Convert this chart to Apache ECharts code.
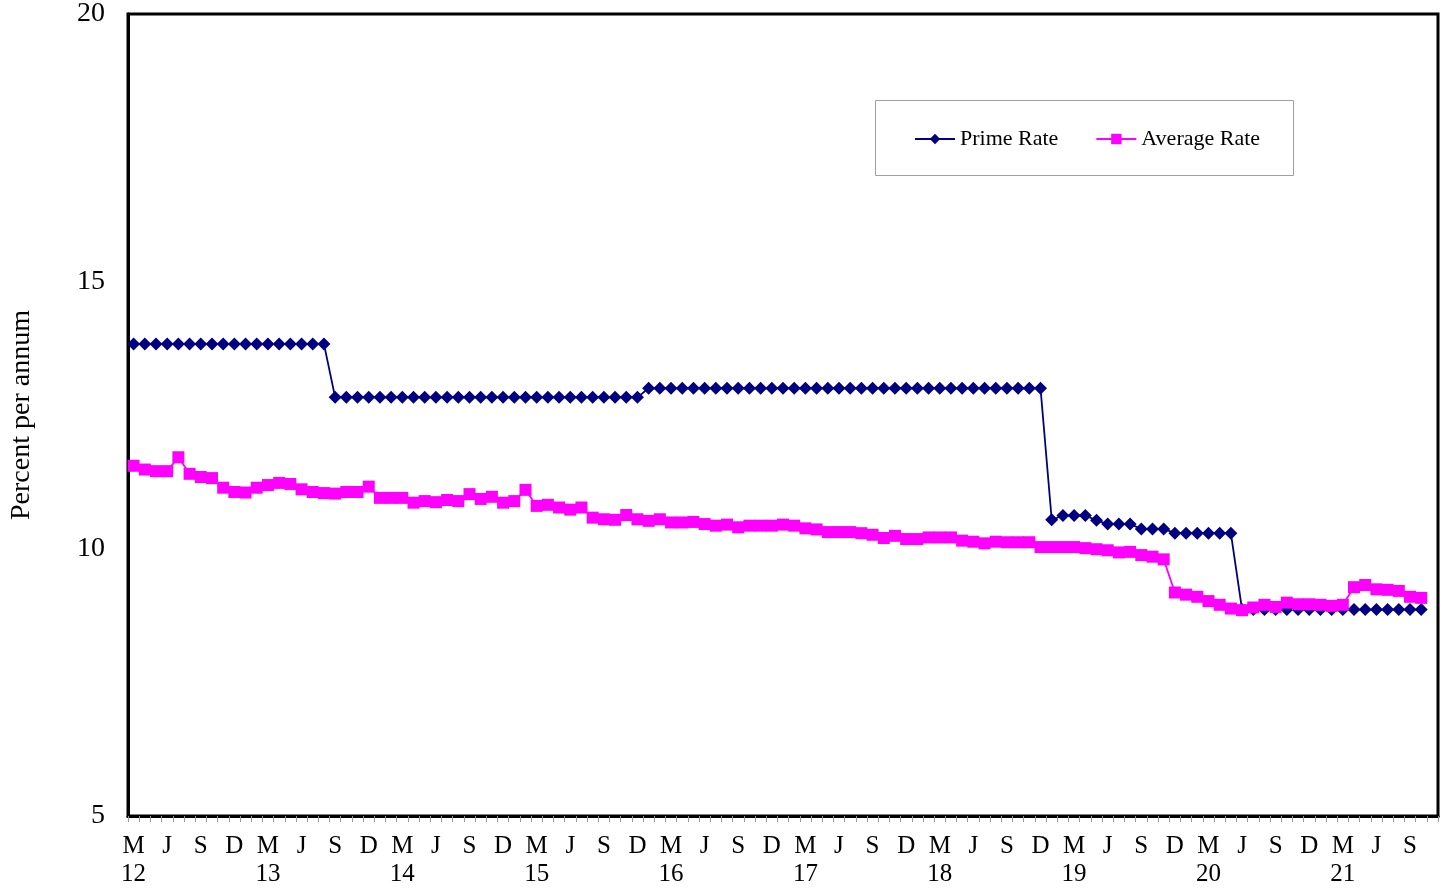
<!DOCTYPE html>
<html>
<head>
<meta charset="utf-8">
<script src="https://cdn.jsdelivr.net/npm/echarts@6/dist/echarts.min.js"></script>
<style>
html,body{margin:0;padding:0;background:#fff;}
#chart{width:1442px;height:894px;}
</style>
</head>
<body>
<div id="chart"></div>
<script>
// Monthly categories: Mar 2012 .. Nov 2021 (last slot empty)
const years = [2012,2013,2014,2015,2016,2017,2018,2019,2020,2021];
const monthLetters = {3:'M',6:'J',9:'S',12:'D'};
const categories = [];
for (const y of years) {
  for (let m = 1; m <= 12; m++) {
    if (y === 2012 && m < 3) continue;
    if (y === 2021 && m > 11) continue;
    categories.push(y + '-' + String(m).padStart(2,'0'));
  }
}

const primeRate = [
  13.83,13.83,13.83,13.83,13.83,13.83,13.83,13.83,13.83,13.83,13.83,13.83,13.83,13.83,13.83,13.83,13.83,13.83,
  12.83,12.83,12.83,12.83,12.83,12.83,12.83,12.83,12.83,12.83,12.83,12.83,12.83,12.83,12.83,12.83,12.83,12.83,
  12.83,12.83,12.83,12.83,12.83,12.83,12.83,12.83,12.83,12.83,
  13.00,13.00,13.00,13.00,13.00,13.00,13.00,13.00,13.00,13.00,13.00,13.00,13.00,13.00,13.00,13.00,13.00,13.00,
  13.00,13.00,13.00,13.00,13.00,13.00,13.00,13.00,13.00,13.00,13.00,13.00,13.00,13.00,13.00,13.00,13.00,13.00,
  10.54,10.62,10.62,10.62,10.53,10.46,10.46,10.46,10.37,10.37,10.37,
  10.29,10.29,10.29,10.29,10.29,10.29,
  8.86,8.86,8.86,8.86,8.86,8.86,8.86,8.86,8.86,8.86,8.86,8.86,8.86,8.86,8.86,8.86,8.86
];

const averageRate = [
  11.55,11.48,11.45,11.45,11.71,11.40,11.34,11.32,11.14,11.06,11.05,11.14,
  11.19,11.23,11.21,11.11,11.06,11.04,11.03,11.06,11.06,11.16,10.95,10.95,
  10.95,10.86,10.89,10.87,10.91,10.89,11.02,10.93,10.97,10.86,10.89,11.10,
  10.80,10.82,10.77,10.73,10.77,10.58,10.55,10.54,10.63,10.55,10.52,10.55,
  10.49,10.49,10.50,10.46,10.43,10.45,10.40,10.43,10.43,10.43,10.45,10.43,
  10.38,10.36,10.31,10.31,10.31,10.29,10.26,10.20,10.24,10.18,10.18,10.21,
  10.21,10.21,10.15,10.13,10.10,10.13,10.12,10.12,10.12,10.03,10.03,10.03,
  10.03,10.01,9.99,9.97,9.93,9.94,9.88,9.85,9.80,9.18,9.14,9.10,
  9.02,8.95,8.88,8.85,8.90,8.95,8.91,8.99,8.96,8.96,8.95,8.93,
  8.95,9.28,9.32,9.24,9.23,9.21,9.10,9.08
];

const yTicks = [5, 10, 15, 20];
const seriesNames = ['Prime Rate', 'Average Rate'];
const FONT = '"Liberation Serif", "Times New Roman", serif';

const chart = echarts.init(document.getElementById('chart'), null, {renderer:'canvas'});
chart.setOption({
  animation: false,
  backgroundColor: '#fff',
  textStyle: {fontFamily: FONT, color: '#000'},
  grid: {left: 123, right: 4, top: 14, bottom: 78, show: true, borderColor: '#000', borderWidth: 3, backgroundColor: 'transparent'},
  graphic: [{
    type: 'rect', z: 1,
    shape: {x: 875.5, y: 100.5, width: 418, height: 75},
    style: {fill: '#fff', stroke: '#a0a0a0', lineWidth: 1}
  }],
  legend: {
    z: 5,
    left: 909, top: 123,
    itemWidth: 40, itemHeight: 13, itemGap: 37,
    data: seriesNames,
    textStyle: {fontFamily: FONT, fontSize: 22, color: '#000'}
  },
  xAxis: {
    type: 'category',
    data: categories,
    boundaryGap: true,
    axisLine: {show: true, lineStyle: {color: '#000', width: 3}},
    axisTick: {show: true, interval: 0, length: 6, lineStyle: {color: '#999', width: 1}},
    axisLabel: {
      interval: 2,
      margin: 16,
      fontFamily: FONT, fontSize: 25, color: '#000', lineHeight: 28,
      formatter: function (v) {
        const y = v.slice(2, 4);
        const m = parseInt(v.slice(5, 7), 10);
        const l = monthLetters[m] || '';
        return m === 3 ? l + '\n' + y : l + '\n ';
      }
    },
    splitLine: {show: false}
  },
  yAxis: {
    type: 'value',
    min: yTicks[0], max: yTicks[yTicks.length - 1], interval: 5,
    name: 'Percent per annum',
    nameLocation: 'middle',
    nameGap: 92,
    nameRotate: 90,
    nameTextStyle: {fontFamily: FONT, fontSize: 28, color: '#000'},
    axisLine: {show: true, lineStyle: {color: '#000', width: 3}},
    axisTick: {show: false},
    axisLabel: {margin: 23, fontFamily: FONT, fontSize: 28, color: '#000'},
    splitLine: {show: false}
  },
  series: [
    {
      name: seriesNames[0], type: 'line', data: primeRate,
      showAllSymbol: true,
      symbol: 'diamond', symbolSize: 13,
      itemStyle: {color: '#000080'},
      lineStyle: {color: '#000080', width: 1.8},
      z: 2
    },
    {
      name: seriesNames[1], type: 'line', data: averageRate,
      showAllSymbol: true,
      symbol: 'rect', symbolSize: [12, 12],
      itemStyle: {color: '#FF00FF'},
      lineStyle: {color: '#FF00FF', width: 1.8},
      z: 3
    }
  ]
});
</script>
</body>
</html>
